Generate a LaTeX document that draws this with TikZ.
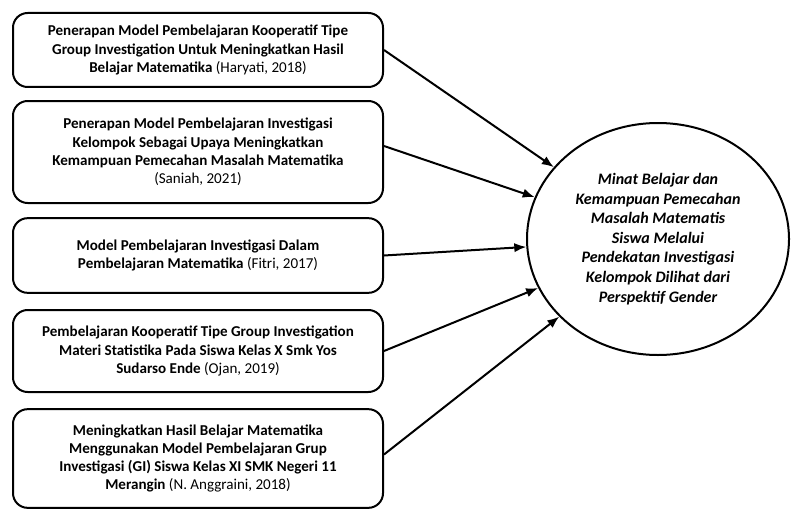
\documentclass[tikz,border=0pt]{standalone}
\usepackage{fontspec}
\setmainfont{Carlito}
\usetikzlibrary{arrows.meta,shapes.geometric}
\begin{document}
\begin{tikzpicture}[x=0.75pt,y=-0.75pt,
  box/.style={draw, line width=1.5pt, rounded corners=11pt, minimum width=277.5pt, align=center, inner sep=2pt, font=\fontsize{11.3}{13.7}\selectfont\bfseries},
  arr/.style={line width=1.5pt, -{Latex[length=9pt,width=7pt]}}]
\useasboundingbox (0,0) rectangle (792,510);
\node[box, minimum height=55.5pt] (b1) at (198,50) {Penerapan Model Pembelajaran Kooperatif Tipe\\Group Investigation Untuk Meningkatkan Hasil\\Belajar Matematika {\mdseries (Haryati, 2018)}};
\node[box, minimum height=76.5pt] (b2) at (198,152) {Penerapan Model Pembelajaran Investigasi\\Kelompok Sebagai Upaya Meningkatkan\\Kemampuan Pemecahan Masalah Matematika\\{\mdseries (Saniah, 2021)}};
\node[box, minimum height=56pt] (b3) at (198,255.5) {Model Pembelajaran Investigasi Dalam\\Pembelajaran Matematika {\mdseries (Fitri, 2017)}};
\node[box, minimum height=61.5pt] (b4) at (198,351) {Pembelajaran Kooperatif Tipe Group Investigation\\Materi Statistika Pada Siswa Kelas X Smk Yos\\Sudarso Ende {\mdseries (Ojan, 2019)}};
\node[box, minimum height=74pt] (b5) at (198,458.5) {Meningkatkan Hasil Belajar Matematika\\Menggunakan Model Pembelajaran Grup\\Investigasi (GI) Siswa Kelas XI SMK Negeri 11\\Merangin {\mdseries (N. Anggraini, 2018)}};
\node[draw, line width=1.5pt, ellipse, minimum width=196.5pt, minimum height=174pt, inner sep=0pt, align=center, font=\fontsize{12}{14.7}\selectfont\bfseries\itshape] (e) at (658,239) {Minat Belajar dan\\Kemampuan Pemecahan\\Masalah Matematis\\Siswa Melalui\\Pendekatan Investigasi\\Kelompok Dilihat dari\\Perspektif Gender};
\draw[arr] (b1.east) -- (e);
\draw[arr] ([yshift=4.5pt]b2.east) -- (e);
\draw[arr] (b3.east) -- (e);
\draw[arr] (b4.east) -- (e);
\draw[arr] ([yshift=3pt]b5.east) -- (e);
\end{tikzpicture}
\end{document}
